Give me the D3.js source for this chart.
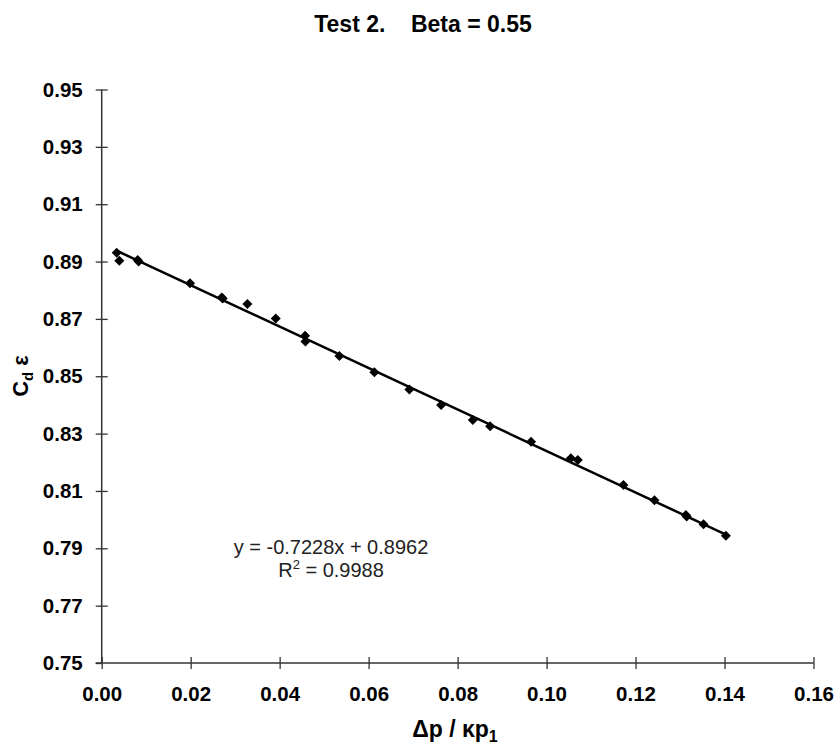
<!doctype html>
<html>
<head>
<meta charset="utf-8"/>
<script src="https://cdnjs.cloudflare.com/ajax/libs/d3/7.8.5/d3.min.js"></script>
<style>
  body { margin: 0; background: #fff; }
  svg { font-family: "Liberation Sans", Arial, sans-serif; }
</style>
</head>
<body>
<svg width="835" height="749"></svg>
<script>
// data
var xVals = [0.00337, 0.00396, 0.00809, 0.00830, 0.01985, 0.02698, 0.02720, 0.03274, 0.03912,
             0.04571, 0.04580, 0.05342, 0.06129, 0.06916, 0.07629, 0.08342, 0.08731, 0.09652,
             0.10545, 0.10702, 0.11728, 0.12425, 0.13131, 0.13150, 0.13527, 0.14030];
var yVals = [0.8931, 0.8903, 0.8905, 0.8900, 0.8824, 0.8775, 0.8771, 0.8752, 0.8701,
             0.8641, 0.8621, 0.8571, 0.8514, 0.8454, 0.8400, 0.8347, 0.8326, 0.8272,
             0.8214, 0.8208, 0.8121, 0.8068, 0.8016, 0.8011, 0.7984, 0.7944];
var slope = -0.7228, intercept = 0.8962;
var xTicks = [0, 0.02, 0.04, 0.06, 0.08, 0.10, 0.12, 0.14, 0.16];
var yTicks = [0.75, 0.77, 0.79, 0.81, 0.83, 0.85, 0.87, 0.89, 0.91, 0.93, 0.95];

var svg = d3.select("svg");
var plotL = 101.7, plotR = 813.5, plotT = 89.5, plotB = 663;

var x = d3.scaleLinear().domain([0, 0.16]).range([plotL, plotR]);
var y = d3.scaleLinear().domain([0.75, 0.95]).range([plotB, plotT]);

// axes
var xAxis = d3.axisBottom(x).tickValues(xTicks).tickFormat(d3.format(".2f")).tickSizeInner(6).tickSizeOuter(0).tickPadding(17);
var yAxis = d3.axisLeft(y).tickValues(yTicks).tickFormat(d3.format(".2f")).tickSizeInner(6).tickSizeOuter(0).tickPadding(13);

var gx = svg.append("g").attr("transform", "translate(0," + plotB + ")").call(xAxis);
var gy = svg.append("g").attr("transform", "translate(" + plotL + ",0)").call(yAxis);

[gx, gy].forEach(function(g) {
  g.select(".domain").attr("stroke", "#333").attr("stroke-width", 1.5);
  g.selectAll(".tick line").attr("stroke", "#333").attr("stroke-width", 1.3);
  g.selectAll(".tick text").attr("fill", "#000").style("font-size", "20.5px").style("font-weight", "bold");
});
// ticks cross the axis
gx.selectAll(".tick line").attr("y1", -6).attr("y2", 6);
gy.selectAll(".tick line").attr("x1", -6).attr("x2", 6);
gy.selectAll(".tick").filter(function(d) { return d === 0.75; }).select("line").attr("x2", 0);
gx.select(".domain").attr("d", "M" + (plotL - 6) + ",0H" + plotR);
gy.select(".domain").attr("d", "M0," + plotT + "V" + plotB);

// trend line
var x0 = d3.min(xVals), x1 = d3.max(xVals);
svg.append("line")
  .attr("x1", x(x0)).attr("y1", y(slope * x0 + intercept))
  .attr("x2", x(x1)).attr("y2", y(slope * x1 + intercept))
  .attr("stroke", "#000").attr("stroke-width", 2.5);

// diamond markers
var diamond = { draw: function(ctx, size) { var r = Math.sqrt(size / 2); ctx.moveTo(0, -r); ctx.lineTo(r, 0); ctx.lineTo(0, r); ctx.lineTo(-r, 0); ctx.closePath(); } };
svg.append("g").selectAll("path")
  .data(d3.range(xVals.length))
  .enter().append("path")
  .attr("d", d3.symbol().type(diamond).size(50))
  .attr("transform", function(i) { return "translate(" + x(xVals[i]) + "," + y(yVals[i]) + ")"; })
  .attr("fill", "#000");

// title
svg.append("text")
  .attr("x", 423).attr("y", 32)
  .attr("text-anchor", "middle")
  .attr("xml:space", "preserve")
  .style("white-space", "pre")
  .style("font-size", "23px").style("font-weight", "bold")
  .text("Test 2.    Beta = 0.55");

// equation
svg.append("text").attr("x", 331).attr("y", 554).attr("text-anchor", "middle")
  .style("font-size", "20px").attr("fill", "#222")
  .text("y = -0.7228x + 0.8962");
var r2 = svg.append("text").attr("x", 331).attr("y", 577).attr("text-anchor", "middle").style("font-size", "20px").attr("fill", "#222");
r2.append("tspan").text("R");
r2.append("tspan").attr("dy", -8).style("font-size", "13px").text("2");
r2.append("tspan").attr("dy", 8).text(" = 0.9988");

// x label
var xl = svg.append("text").attr("x", 455).attr("y", 737).attr("text-anchor", "middle")
  .attr("xml:space", "preserve").style("white-space", "pre")
  .style("font-size", "23px").style("font-weight", "bold");
xl.append("tspan").text("Δp / κp");
xl.append("tspan").attr("dy", 5).style("font-size", "16px").text("1");

// y label
var yl = svg.append("text").attr("transform", "translate(28,376) rotate(-90)").attr("text-anchor", "middle")
  .style("font-size", "22px").style("font-weight", "bold");
yl.append("tspan").text("C");
yl.append("tspan").attr("dy", 5).style("font-size", "15px").text("d");
yl.append("tspan").attr("dy", -5).text(" ε");
</script>
</body>
</html>
